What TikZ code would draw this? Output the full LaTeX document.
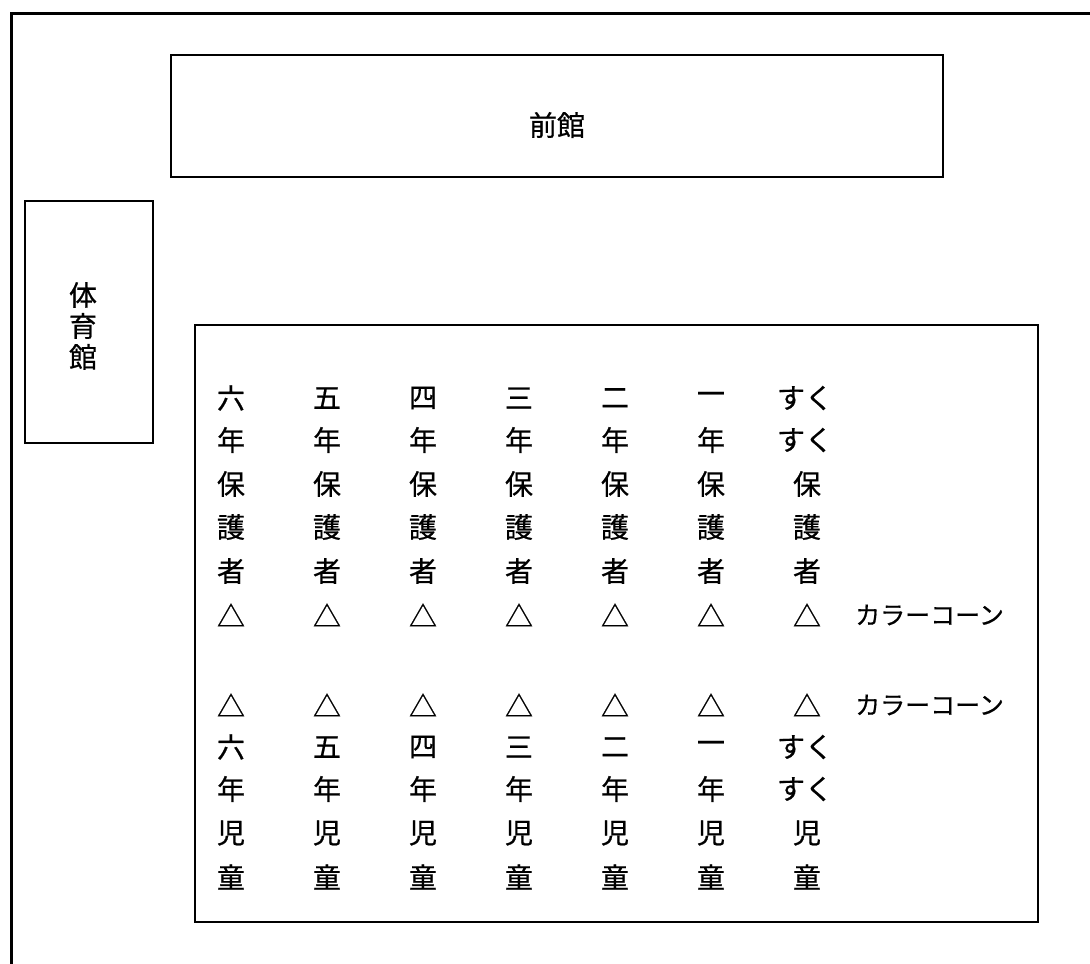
\documentclass[tikz,border=0pt]{standalone}
\usepackage{fontspec}
\setmainfont{Noto Sans CJK JP}[FakeBold=0.6]
\begin{document}
\begin{tikzpicture}[x=1pt,y=-1pt,
  bldg/.style={draw,line width=1.7pt},
  lbl/.style={inner sep=0pt,font=\fontsize{28}{31}\selectfont},
  cone/.style={inner sep=0pt,anchor=west,font=\fontsize{25}{30}\selectfont}]
\useasboundingbox (0,0) rectangle (1090,964);
% outer site boundary (clipped at right and bottom)
\coordinate (ob) at (11,966);
\coordinate (otl) at (11,13);
\coordinate (or) at (1092,13);
\draw[line width=3pt] (ob) -- (otl) -- (or);
% buildings
\draw[bldg] (171,55) rectangle (943,177);
\node[lbl] (zenkan) at (557,125) {前館};
\draw[bldg] (25,201) rectangle (153,443);
\node[lbl,align=center] (taiikukan) at (83,326) {体\\育\\館};
\draw[bldg] (195,325) rectangle (1038,922);
% upper block (guardians) and lower block (children)
\foreach \c/\t [count=\i from 0] in {六/a,五/b,四/c,三/d,二/e,一/f}{
  \node[lbl] (p1\t) at (231+96*\i,398) {\c};
  \node[lbl] (p2\t) at (231+96*\i,440) {年};
  \node[lbl] (s1\t) at (231+96*\i,747) {\c};
  \node[lbl] (s2\t) at (231+96*\i,789) {年};
}
\node[lbl] (p1g) at (805,398) {すく};
\node[lbl] (p2g) at (805,440) {すく};
\node[lbl] (s1g) at (805,747) {すく};
\node[lbl] (s2g) at (805,789) {すく};
\foreach \t [count=\i from 0] in {a,b,c,d,e,f,g}{
  \node[lbl] (p3\t) at (231+96*\i,484) {保};
  \node[lbl] (p4\t) at (231+96*\i,527) {護};
  \node[lbl] (p5\t) at (231+96*\i,571) {者};
  \node[lbl] (p6\t) at (231+96*\i,615) {△};
  \node[lbl] (s0\t) at (231+96*\i,705) {△};
  \node[lbl] (s3\t) at (231+96*\i,833) {児};
  \node[lbl] (s4\t) at (231+96*\i,877) {童};
}
\node[cone] (cone1) at (855,615) {カラーコーン};
\node[cone] (cone2) at (855,705) {カラーコーン};
\end{tikzpicture}
\end{document}
